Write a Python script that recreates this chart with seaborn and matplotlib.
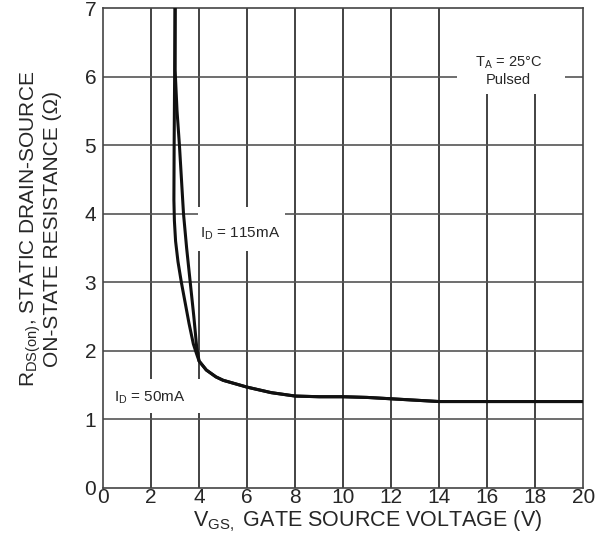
import seaborn as sns
import pandas as pd
import matplotlib
matplotlib.use('Agg')
import matplotlib.pyplot as plt
from matplotlib.patches import Rectangle

# steep part of each curve, then the shared tail
vgs_50 = [3.0, 2.98, 2.96, 2.95, 2.97, 3.02, 3.12, 3.26, 3.42, 3.58, 3.76, 3.9, 4.0]
rds_50 = [7.0, 6.0, 5.0, 4.2, 3.9, 3.6, 3.3, 3.0, 2.7, 2.4, 2.1, 1.95, 1.85]
vgs_115 = [3.0, 3.0, 3.08, 3.18, 3.35, 3.48, 3.63, 3.78, 3.9, 4.0]
rds_115 = [7.0, 6.1, 5.5, 5.0, 4.0, 3.5, 3.0, 2.5, 2.05, 1.85]
vgs_tail = [4.0, 4.3, 4.7, 5.0, 5.5, 6.0, 7.0, 8.0, 9.0, 10.0, 11.0, 12.0, 13.0, 14.0, 16.0, 18.0, 20.0]
rds_tail = [1.85, 1.72, 1.62, 1.57, 1.52, 1.47, 1.39, 1.34, 1.33, 1.33, 1.32, 1.30, 1.28, 1.26, 1.26, 1.26, 1.26]

sns.set_style('white')
plt.rcParams['font.family'] = ['Liberation Sans', 'DejaVu Sans']

df = pd.concat([
    pd.DataFrame({'vgs': vgs_50 + vgs_tail[1:], 'rds': rds_50 + rds_tail[1:], 'id': '50mA'}),
    pd.DataFrame({'vgs': vgs_115 + vgs_tail[1:], 'rds': rds_115 + rds_tail[1:], 'id': '115mA'}),
])

fig = plt.figure(figsize=(6.1, 5.35), dpi=100)
ax = fig.add_axes([0.169, 0.088, 0.787, 0.897])
sns.lineplot(data=df, x='vgs', y='rds', units='id', estimator=None, sort=False,
             color='#111111', linewidth=2.2, ax=ax, legend=False, zorder=3)

ax.set_xlim(0, 20)
ax.set_ylim(0, 7)
ax.set_xticks(range(0, 21, 2))
ax.set_yticks(range(0, 8))
for x in range(2, 20, 2):
    ax.axvline(x, color='#222222', lw=1.2, zorder=0)
for y in range(1, 7):
    ax.axhline(y, color='#555555', lw=1.2, zorder=0)
for s in ax.spines.values():
    s.set_color('#444444')
    s.set_linewidth(1.2)
ax.tick_params(length=0, labelsize=15)
ax.tick_params(axis='x', pad=0)
ax.tick_params(axis='y', pad=5)

ax.set_xlabel(r'V$_{\mathregular{GS,}}$ GATE SOURCE VOLTAGE (V)', fontsize=15.5)
ax.xaxis.set_label_coords(0.552, -0.0425)
ax.set_ylabel('R$_{\\mathregular{DS(on)}}$, STATIC DRAIN-SOURCE\nON-STATE RESISTANCE (\u03a9)',
              fontsize=15, linespacing=1.05)
ax.yaxis.set_label_coords(-0.085, 0.54)

# white boxes behind the notes, hiding the grid
for x0, y0, w, h in [(14.75, 5.75, 4.5, 1.25), (3.96, 3.45, 3.6, 0.65), (0.05, 1.09, 4.0, 0.5)]:
    ax.add_patch(Rectangle((x0, y0), w, h, facecolor='white', edgecolor='none', zorder=1))

ax.text(4.04, 3.71, r'I$_{\mathregular{D}}$ = 115mA', fontsize=11, va='center', zorder=4)
ax.text(0.45, 1.31, r'I$_{\mathregular{D}}$ = 50mA', fontsize=11, va='center', zorder=4)
ax.text(16.9, 6.09, 'T$_{\\mathregular{A}}$ = 25\u00b0C\nPulsed', fontsize=10.5, ha='center', va='center',
        linespacing=1.2, zorder=4)

fig.savefig('out.png', dpi=100)
